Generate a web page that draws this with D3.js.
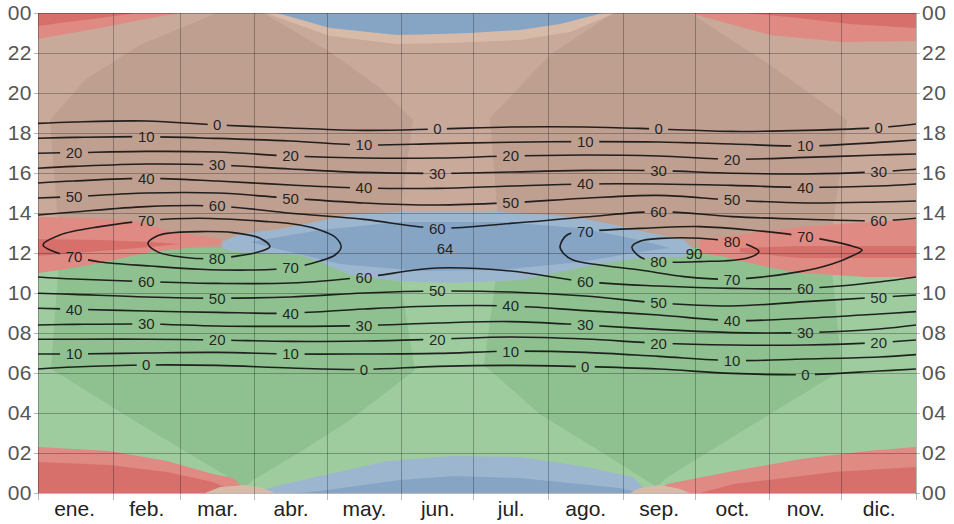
<!doctype html>
<meta charset="utf-8">
<style>
body {
  margin: 0;
  background: #fff;
  font-family: "Liberation Sans", Arial, sans-serif;
}
</style>
<script src="https://cdn.jsdelivr.net/npm/d3@7/dist/d3.min.js"></script>
<body>
<script>

var w = 954, h = 524;

// axes
var monthNames = ["ene.", "feb.", "mar.", "abr.", "may.", "jun.", "jul.", "ago.", "sep.", "oct.", "nov.", "dic."];
var monthStarts = [0, 31, 59, 90, 120, 151, 181, 212, 243, 273, 304, 334, 365];
var monthMids = [15, 45, 74.5, 105, 135.5, 166, 196.5, 227.5, 258, 288.5, 319, 349.5];
var hourTicks = [0, 2, 4, 6, 8, 10, 12, 14, 16, 18, 20, 22, 24];

// solar elevation lines: hour of day at Jan 1, each mid-month, Dec 31
var sampleDays = [0].concat(monthMids, [365]);
var pm0  = [18.48, 18.55, 18.6, 18.4, 18.25, 18.13, 18.2, 18.3, 18.3, 18.2, 18.08, 18.13, 18.27, 18.45];
var pm10 = [17.74, 17.78, 17.82, 17.73, 17.6, 17.4, 17.47, 17.54, 17.57, 17.55, 17.45, 17.35, 17.53, 17.65];
var pm20 = [16.99, 17.02, 17.08, 17.05, 16.85, 16.75, 16.75, 16.85, 16.9, 16.85, 16.69, 16.78, 16.9, 16.95];
var pm30 = [16.24, 16.33, 16.45, 16.4, 16.2, 16.03, 15.98, 16.05, 16.13, 16.12, 15.99, 15.95, 16.07, 16.19];
var pm40 = [15.5, 15.6, 15.73, 15.6, 15.4, 15.25, 15.23, 15.35, 15.45, 15.45, 15.38, 15.28, 15.35, 15.45];
var pm50 = [14.75, 14.82, 15.0, 15.0, 14.74, 14.5, 14.4, 14.52, 14.74, 14.88, 14.65, 14.5, 14.55, 14.6];
var pm60 = [13.9, 14.05, 14.32, 14.35, 13.99, 13.68, 13.24, 13.48, 13.8, 14.07, 13.82, 13.69, 13.62, 13.74];
var am60 = [10.8, 10.7, 10.57, 10.48, 10.5, 10.79, 11.25, 11.1, 10.57, 10.35, 10.23, 10.23, 10.55, 10.8];
var am50 = [9.99, 9.93, 9.8, 9.74, 9.8, 10.0, 10.1, 10.05, 9.85, 9.5, 9.35, 9.57, 9.79, 9.9];
var am40 = [9.24, 9.19, 9.1, 9.03, 8.99, 9.2, 9.35, 9.35, 9.12, 8.9, 8.62, 8.74, 8.95, 9.07];
var am30 = [8.4, 8.43, 8.45, 8.35, 8.33, 8.37, 8.5, 8.57, 8.4, 8.18, 8.02, 8.02, 8.2, 8.4];
var am20 = [7.69, 7.69, 7.69, 7.65, 7.58, 7.6, 7.69, 7.8, 7.7, 7.49, 7.4, 7.4, 7.52, 7.65];
var am10 = [6.95, 6.95, 7.0, 7.03, 6.95, 6.95, 6.98, 7.09, 7.03, 6.83, 6.62, 6.7, 6.8, 6.92];
var am0  = [6.2, 6.3, 6.4, 6.38, 6.25, 6.18, 6.33, 6.38, 6.32, 6.2, 5.98, 5.92, 6.1, 6.2];

// closed elevation lines near noon: [day of year, hour]
var loop70a = [[2.1,12.4],[9.1,12.9],[25.8,13.32],[45.3,13.62],[67.3,13.74],[95.2,13.57],[108.9,13.4],[117.2,13.15],[123.5,12.8],[126,12.3],[123.5,11.9],[117.2,11.6],[104.8,11.25],[88.1,11.15],[67.3,11.19],[46.6,11.35],[25.8,11.55],[15.4,11.79],[7.1,12.05]];
var loop70b = [[217,12.32],[219.9,12.9],[227.4,13.07],[254.4,13.25],[275.2,13.32],[296,13.15],[319.3,12.82],[330.9,12.57],[338.4,12.35],[342.6,12.15],[338.4,11.85],[330.1,11.45],[316.8,11.07],[288.5,10.69],[268.6,10.82],[250.3,11.15],[233.6,11.4],[222.4,11.65],[218.3,12.0]];
var loop80a = [[45.7,12.49],[49.5,12.85],[53.6,12.98],[67.3,13.07],[81.1,13.02],[92.3,12.74],[96.4,12.32],[92.3,12.07],[81.1,11.82],[74.4,11.72],[60.3,11.79],[49.5,12.07]];
var loop80b = [[246.9,12.3],[250.5,12.6],[259,12.73],[275.2,12.74],[288.5,12.57],[295.2,12.4],[299.7,12.07],[294.7,11.74],[275.2,11.57],[258.2,11.57],[250.5,11.79]];
var peaks = [[169.2, 12.2, "64"], [272.7, 11.95, "90"]];

// azimuth zones: [day of year, hour] outlines
var morning = [[0,0],[365,0],[365,12.25],[0,12.25]];
var eastCore1 = [[86.1,0.3],[67.3,1.65],[39.5,3.65],[21.6,5.0],[5.4,6.2],[9.1,12.25],[148.4,12.25],[156.7,6.15],[142.2,4.8],[128.5,3.55],[108.9,2.05],[89.4,0.65]];
var eastCore2 = [[257.3,0.3],[254.0,0.55],[229.5,2.4],[209.1,3.9],[185.4,6.4],[192.1,12.25],[329.2,12.25],[334.3,6.15],[297.6,3.45],[261.1,0.75]];
var westCore1 = [[9.1,12.25],[5.0,18.65],[19.5,20.65],[42.4,22.4],[74.4,24],[93.5,24],[121.4,22.05],[142.2,20.25],[155.9,18.65],[148.4,12.25]];
var westCore2 = [[192.1,12.25],[187.9,18.75],[212.8,21.9],[239.0,24],[271.0,24],[304.3,21.4],[336.3,18.65],[329.2,12.25]];
var noonSouth1 = [[0,13.8],[21.6,13.75],[42.4,13.55],[53.6,13.15],[67.3,12.85],[74.4,12.75],[76.5,12.55],[74.4,12.4],[61.9,12.25],[46.6,12.05],[25.8,11.5],[9.1,11.15],[0,11.0]];
var noonSouth1Core = [[0,12.7],[25.8,12.65],[46.6,12.55],[59.0,12.45],[46.6,12.3],[25.8,12.1],[0,11.85]];
var noonSouth2 = [[275.2,12.65],[282.3,12.75],[300.1,13.05],[316.8,13.3],[344.6,13.55],[365,13.65],[365,10.8],[344.6,10.8],[316.8,11.0],[303.1,11.3],[283.9,11.85],[275.2,12.0]];
var noonSouth2Core = [[291.8,12.25],[316.8,12.35],[365,12.35],[365,11.75],[316.8,11.75],[291.8,12.05]];
var noonNorth = [[76.5,12.55],[84.0,12.95],[100.6,13.2],[117.2,13.6],[130.9,13.95],[150.5,14.05],[171.3,14.08],[192.1,14.05],[212.8,13.9],[225.3,13.75],[241.9,13.35],[254.4,13.0],[268.6,12.65],[271.9,12.25],[268.6,11.8],[250.3,11.75],[233.6,11.45],[217.0,11.05],[200.4,10.65],[172.5,10.5],[150.5,10.6],[130.9,10.85],[117.2,11.55],[108.9,11.9],[92.3,12.0],[81.1,12.05],[76.5,12.25]];
var noonNorthCore = [[88.1,12.55],[117.2,13.15],[150.5,13.55],[192.1,13.55],[225.3,13.25],[250.3,12.65],[262.7,12.25],[250.3,12.05],[225.3,11.55],[192.1,11.15],[158.8,11.1],[125.5,11.45],[104.8,12.05]];
var dawnSouth1 = [[0,0],[0,2.3],[29.9,2.1],[53.6,1.6],[72.7,0.95],[81.1,0.75],[85.2,0.3],[87.3,0]];
var dawnSouth1Core = [[0,0],[0,1.55],[29.9,1.4],[53.6,1.05],[72.7,0.55],[83.1,0]];
var dawnSouth2 = [[365,0],[365,2.3],[344.6,2.1],[317.2,1.7],[289.3,1.1],[261.5,0.45],[256.5,0]];
var dawnSouth2Core = [[365,0],[365,1.3],[330.9,1.05],[289.3,0.45],[275.2,0]];
var dawnNorth = [[89.4,0],[100.6,0.4],[117.2,0.85],[145.1,1.6],[172.5,1.85],[200.4,1.8],[228.2,1.3],[247.3,0.8],[254.0,0]];
var dawnNorthCore = [[108.9,0],[117.2,0.1],[150.5,0.65],[172.5,0.85],[200.4,0.75],[225.3,0.45],[241.9,0.25],[250.3,0]];
var dawnWest1 = [[69.4,0],[75.7,0.3],[86.1,0.4],[93.1,0.25],[98.5,0]];
var dawnWest2 = [[246.1,0],[250.3,0.25],[258.6,0.4],[266.9,0.2],[271.0,0]];
var duskSouth1 = [[0,24],[59.0,24],[42.4,23.65],[25.8,23.25],[9.1,22.9],[0,22.7]];
var duskSouth1Core = [[0,24],[41.2,24],[25.8,23.75],[9.1,23.5],[0,23.35]];
var duskSouth2 = [[271.0,24],[365,24],[365,22.6],[334.6,22.55],[304.3,22.9],[287.7,23.45]];
var duskSouth2Core = [[293.5,24],[365,24],[365,23.25],[337.6,23.45],[312.6,23.8]];
var duskNorthEdge = [[94.4,24],[239.9,24],[221.2,23.05],[200.4,22.65],[171.3,22.5],[149.2,22.45],[121.4,22.85]];
var duskNorth = [[99.4,24],[234.9,24],[217.0,23.45],[200.4,23.15],[179.6,23.0],[167.1,22.95],[149.2,22.9],[121.4,23.25]];

var lightTan = "#c8a99a", darkTan = "#bf9f90",
    lightGreen = "#9fcc9f", darkGreen = "#8fc08f",
    lightRed = "#df8a83", darkRed = "#d7706b",
    lightBlue = "#9db6cf", darkBlue = "#86a5c5",
    peach = "#d8baa8";

var x = d3.scaleLinear().domain([0, 365]).range([38, 916]);
var y = d3.scaleLinear().domain([0, 24]).range([493, 13]);

var svg = d3.select("body")
  .append("svg")
    .attr("width", w)
    .attr("height", h);

var defs = svg.append("defs");

defs.append("clipPath")
    .attr("id", "plot")
  .append("rect")
    .attr("x", x(0))
    .attr("y", y(24))
    .attr("width", x(365) - x(0))
    .attr("height", y(0) - y(24));

// colour zones

var zones = svg.append("g").attr("clip-path", "url(#plot)");

zones.append("rect")
    .attr("x", x(0))
    .attr("y", y(24))
    .attr("width", x(365) - x(0))
    .attr("height", y(0) - y(24))
    .attr("fill", lightTan);

var layers = [
  [morning, lightGreen],
  [eastCore1, darkGreen], [eastCore2, darkGreen],
  [westCore1, darkTan], [westCore2, darkTan],
  [noonSouth1, lightRed], [noonSouth1Core, darkRed],
  [noonSouth2, lightRed], [noonSouth2Core, darkRed],
  [noonNorth, lightBlue], [noonNorthCore, darkBlue],
  [dawnSouth1, lightRed], [dawnSouth1Core, darkRed],
  [dawnSouth2, lightRed], [dawnSouth2Core, darkRed],
  [dawnNorth, lightBlue], [dawnNorthCore, darkBlue],
  [dawnWest1, peach], [dawnWest2, peach],
  [duskSouth1, lightRed], [duskSouth1Core, darkRed],
  [duskSouth2, lightRed], [duskSouth2Core, darkRed],
  [duskNorthEdge, peach], [duskNorth, darkBlue]
];

var poly = d3.line()
    .x(function(d) { return x(d[0]); })
    .y(function(d) { return y(d[1]); })
    .curve(d3.curveLinearClosed);

zones.selectAll("path")
    .data(layers)
  .join("path")
    .attr("d", function(d) { return poly(d[0]); })
    .attr("fill", function(d) { return d[1]; });

// grid

var grid = svg.append("g")
    .attr("stroke", "#000")
    .attr("stroke-opacity", 0.27)
    .attr("stroke-width", 1);

grid.selectAll("line.v")
    .data(monthStarts)
  .join("line")
    .attr("class", "v")
    .attr("x1", function(d) { return Math.round(x(d)) + 0.5; })
    .attr("x2", function(d) { return Math.round(x(d)) + 0.5; })
    .attr("y1", y(24))
    .attr("y2", y(0) + 7);

grid.selectAll("line.h")
    .data(hourTicks)
  .join("line")
    .attr("class", "h")
    .attr("x1", x(0) - 4)
    .attr("x2", x(365) + 4)
    .attr("y1", function(d) { return Math.round(y(d)) + 0.5; })
    .attr("y2", function(d) { return Math.round(y(d)) + 0.5; });

// elevation lines

var mask = defs.append("mask")
    .attr("id", "gaps")
    .attr("maskUnits", "userSpaceOnUse")
    .attr("x", 0).attr("y", 0)
    .attr("width", w).attr("height", h);
mask.append("rect")
    .attr("width", w).attr("height", h)
    .attr("fill", "white");

var openLine = d3.line()
    .x(function(d) { return x(d[0]); })
    .y(function(d) { return y(d[1]); })
    .curve(d3.curveCatmullRom);
var loopLine = d3.line()
    .x(function(d) { return x(d[0]); })
    .y(function(d) { return y(d[1]); })
    .curve(d3.curveCatmullRomClosed);

function pts(hours) {
  return sampleDays.map(function(d, i) { return [d, hours[i]]; });
}

var lines = [
  {level: 0, side: "pm", d: openLine(pts(pm0))},
  {level: 10, side: "pm", d: openLine(pts(pm10))},
  {level: 20, side: "pm", d: openLine(pts(pm20))},
  {level: 30, side: "pm", d: openLine(pts(pm30))},
  {level: 40, side: "pm", d: openLine(pts(pm40))},
  {level: 50, side: "pm", d: openLine(pts(pm50))},
  {level: 60, side: "pm", d: openLine(pts(pm60))},
  {level: 60, side: "am", d: openLine(pts(am60))},
  {level: 50, side: "am", d: openLine(pts(am50))},
  {level: 40, side: "am", d: openLine(pts(am40))},
  {level: 30, side: "am", d: openLine(pts(am30))},
  {level: 20, side: "am", d: openLine(pts(am20))},
  {level: 10, side: "am", d: openLine(pts(am10))},
  {level: 0, side: "am", d: openLine(pts(am0))},
  {level: 70, side: "loop", d: loopLine(loop70a)},
  {level: 70, side: "loop", d: loopLine(loop70b)},
  {level: 80, side: "loop", d: loopLine(loop80a)},
  {level: 80, side: "loop", d: loopLine(loop80b)}
];

var contours = svg.append("g")
    .attr("clip-path", "url(#plot)")
  .append("g")
    .attr("mask", "url(#gaps)");

var paths = contours.selectAll("path")
    .data(lines)
  .join("path")
    .attr("d", function(d) { return d.d; })
    .attr("fill", "none")
    .attr("stroke", "#111")
    .attr("stroke-opacity", 0.9)
    .attr("stroke-width", 1.6);

// y values where a path crosses a vertical line
function crossings(node, px) {
  var len = node.getTotalLength(), out = [];
  var prev = node.getPointAtLength(0);
  for (var s = 0.5; s <= len + 0.5; s += 0.5) {
    var p = node.getPointAtLength(Math.min(s, len));
    if (prev.x !== p.x && (prev.x - px) * (p.x - px) <= 0) {
      out.push(prev.y + (px - prev.x) / (p.x - prev.x) * (p.y - prev.y));
    }
    prev = p;
  }
  return out;
}

var labels = [];
paths.each(function(d) {
  var k = d.level / 10, node = this;
  monthMids.forEach(function(day, m) {
    var px = x(day), ys = crossings(node, px);
    if (!ys.length) return;
    var up = d3.min(ys), down = d3.max(ys);
    if (d.side !== "am" && (m + k) % 3 === 2) labels.push([px, up, d.level]);
    if (d.side !== "pm" && (m + k) % 3 === 1 && (d.side === "am" || ys.length > 1)) labels.push([px, down, d.level]);
  });
});
peaks.forEach(function(p) { labels.push([x(p[0]), y(p[1]), p[2], true]); });

mask.selectAll("rect.gap")
    .data(labels.filter(function(d) { return !d[3]; }))
  .join("rect")
    .attr("class", "gap")
    .attr("x", function(d) { return d[0] - String(d[2]).length * 4.5 - 5; })
    .attr("y", function(d) { return d[1] - 7; })
    .attr("width", function(d) { return String(d[2]).length * 9 + 10; })
    .attr("height", 14)
    .attr("fill", "black");

svg.append("g")
  .selectAll("text")
    .data(labels)
  .join("text")
    .attr("x", function(d) { return d[0]; })
    .attr("y", function(d) { return d[1]; })
    .attr("dy", "0.36em")
    .attr("text-anchor", "middle")
    .style("font-size", "15px")
    .style("fill", "#111")
    .style("fill-opacity", 0.9)
    .text(function(d) { return d[2]; });

// axes

var fmt = d3.format("02d");

var left = svg.append("g")
    .attr("transform", "translate(" + (x(0) - 4) + ",0)")
    .call(d3.axisLeft(y).tickValues(hourTicks).tickFormat(function(d) { return fmt(d % 24); }).tickSize(0).tickPadding(2));

var right = svg.append("g")
    .attr("transform", "translate(" + (x(365) + 4) + ",0)")
    .call(d3.axisRight(y).tickValues(hourTicks).tickFormat(function(d) { return fmt(d % 24); }).tickSize(0).tickPadding(2));

var bottom = svg.append("g")
    .attr("transform", "translate(0," + (y(0) + 6) + ")")
    .call(d3.axisBottom(x).tickValues(monthMids).tickFormat(function(d, i) { return monthNames[i]; }).tickSize(0).tickPadding(2));

[left, right].forEach(function(g) {
  g.select(".domain").remove();
  g.selectAll("text")
      .style("font-size", "21px")
      .style("letter-spacing", "0.5px")
      .style("fill", "#555")
      .style("font-family", "Liberation Sans, Arial, sans-serif");
});
bottom.select(".domain").remove();
bottom.selectAll("text")
    .style("font-size", "21px")
    .style("fill", "#222")
    .style("font-family", "Liberation Sans, Arial, sans-serif");

</script>
